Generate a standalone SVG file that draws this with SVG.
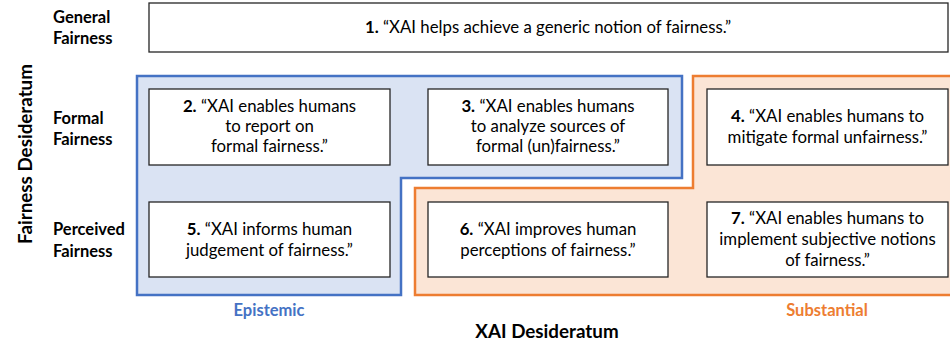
<svg xmlns="http://www.w3.org/2000/svg" width="950" height="347" viewBox="0 0 950 347">
<style>
text{font-family:Lato,"Liberation Sans",sans-serif;fill:#000}
.t{font-size:16.8px;text-anchor:middle}
.b{font-weight:bold}
.row{font-size:16.5px;font-weight:bold}
.ax{font-size:18.8px;font-weight:bold}
.box{fill:#fff;stroke:#262626;stroke-width:1.3}
</style>
<rect width="950" height="347" fill="#fff"/>
<g id="regions">
<path id="substantial-region" d="M693,76 H953 V295 H415 V188 H693 Z" fill="#FBE5D6" stroke="#ED7D31" stroke-width="2.5"/>
<path id="epistemic-region" d="M137,76 H682 V178 H401 V295 H137 Z" fill="#DAE3F3" stroke="#4472C4" stroke-width="2.5"/>
</g>
<g id="labels">
<text class="ax" transform="translate(32,154) rotate(-90)" text-anchor="middle">Fairness Desideratum</text>
<text class="ax" x="547" y="338" text-anchor="middle">XAI Desideratum</text>
<text class="row" x="53" y="23">General</text>
<text class="row" x="53" y="44">Fairness</text>
<text class="row" x="53" y="124">Formal</text>
<text class="row" x="53" y="145">Fairness</text>
<text class="row" x="53" y="235">Perceived</text>
<text class="row" x="53" y="257">Fairness</text>
<text class="row" x="269" y="316" text-anchor="middle" style="fill:#4472C4">Epistemic</text>
<text class="row" x="827" y="316" text-anchor="middle" style="fill:#ED7D31">Substantial</text>
</g>
<g id="n1"><rect class="box" x="149" y="3" width="799" height="49"/>
<text class="t" x="548" y="33"><tspan class="b">1.</tspan> “XAI helps achieve a generic notion of fairness.”</text></g>
<g id="n2"><rect class="box" x="149" y="89" width="241" height="76"/>
<text class="t" x="269.5" y="112"><tspan class="b">2.</tspan> “XAI enables humans</text>
<text class="t" x="269.5" y="132">to report on</text>
<text class="t" x="269.5" y="152">formal fairness.”</text></g>
<g id="n3"><rect class="box" x="428" y="89" width="240" height="76"/>
<text class="t" x="548" y="112"><tspan class="b">3.</tspan> “XAI enables humans</text>
<text class="t" x="548" y="132">to analyze sources of</text>
<text class="t" x="548" y="152">formal (un)fairness.”</text></g>
<g id="n4"><rect class="box" x="707" y="89" width="241" height="76"/>
<text class="t" x="827.5" y="122"><tspan class="b">4.</tspan> “XAI enables humans to</text>
<text class="t" x="827.5" y="143">mitigate formal unfairness.”</text></g>
<g id="n5"><rect class="box" x="149" y="202" width="241" height="75"/>
<text class="t" x="269.5" y="235"><tspan class="b">5.</tspan> “XAI informs human</text>
<text class="t" x="269.5" y="256">judgement of fairness.”</text></g>
<g id="n6"><rect class="box" x="428" y="202" width="240" height="75"/>
<text class="t" x="548" y="235"><tspan class="b">6.</tspan> “XAI improves human</text>
<text class="t" x="548" y="256">perceptions of fairness.”</text></g>
<g id="n7"><rect class="box" x="707" y="202" width="241" height="75"/>
<text class="t" x="827.5" y="224"><tspan class="b">7.</tspan> “XAI enables humans to</text>
<text class="t" x="827.5" y="245">implement subjective notions</text>
<text class="t" x="827.5" y="266">of fairness.”</text></g>
<g id="connectors"></g>
</svg>
